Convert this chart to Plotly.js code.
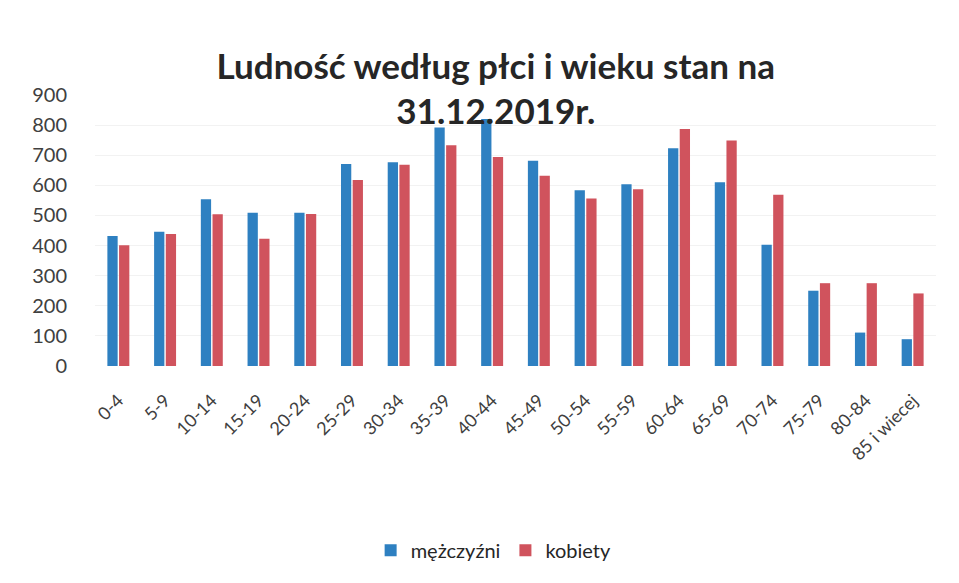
<!DOCTYPE html>
<html>
<head>
<meta charset="utf-8">
<script src="https://cdn.plot.ly/plotly-3.0.1.min.js"></script>
<style>html,body{margin:0;padding:0;background:#fff;}#chart{width:959px;height:583px;}</style>
</head>
<body>
<div id="chart"></div>
<script>
const categories = ["0-4","5-9","10-14","15-19","20-24","25-29","30-34","35-39","40-44","45-49","50-54","55-59","60-64","65-69","70-74","75-79","80-84","85 i wiecej"];
const men   = [432, 446, 554, 509, 509, 671, 677, 792, 820, 682, 584, 604, 723, 610, 403, 250, 111, 89];
const women = [401, 438, 504, 423, 505, 618, 668, 733, 694, 632, 556, 587, 787, 749, 569, 275, 275, 241];
const seriesNames = ["mężczyźni", "kobiety"];
const yTicks = [0,100,200,300,400,500,600,700,800,900];

const font = "Lato, 'Open Sans', 'Liberation Sans', sans-serif";
const data = [
  {type:'bar', name:seriesNames[0], x:categories, y:men, marker:{color:'#2e80c1'}},
  {type:'bar', name:seriesNames[1], x:categories, y:women, marker:{color:'#d0535d'}}
];
const layout = {
  width:959, height:583,
  margin:{l:95, r:23, t:95, b:217},
  paper_bgcolor:'#fff', plot_bgcolor:'#fff',
  barmode:'group', bargap:0.5, bargroupgap:0.12,
  title:{text:'<b>Ludność według płci i wieku stan na<br>31.12.2019r.</b>',
    font:{family:font, size:35, color:'#262626'},
    x:0.517, xref:'container', xanchor:'center', y:0.865, yref:'container', yanchor:'middle'},
  font:{family:font, color:'#404040'},
  xaxis:{type:'category', tickangle:-45, tickfont:{size:18, color:'#404040'},
    ticks:'outside', ticklen:16, tickcolor:'rgba(0,0,0,0)', showline:false, showgrid:false, fixedrange:true},
  yaxis:{range:[0,900], tickvals:yTicks, tickfont:{size:20, color:'#404040'},
    ticks:'outside', ticklen:23, tickcolor:'rgba(0,0,0,0)', showgrid:true, gridcolor:'#f2f2f2', zeroline:false, showline:false},
  legend:{orientation:'h', x:0.474, xanchor:'center', y:-0.68, yanchor:'middle',
    font:{size:20, color:'#262626'}, itemwidth:30, traceorder:'normal'},
  showlegend:true
};
Plotly.newPlot('chart', data, layout, {displayModeBar:false, staticPlot:true});
</script>
</body>
</html>
